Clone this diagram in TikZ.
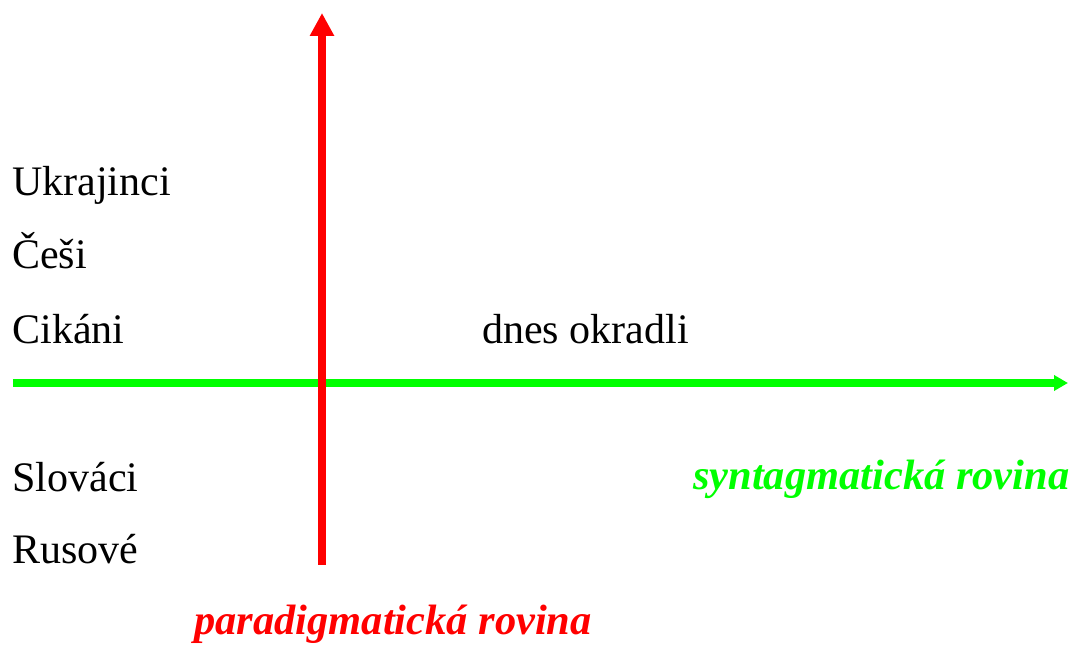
\documentclass[tikz,border=0pt]{standalone}
\usepackage{fontspec}
\setmainfont{Liberation Serif}
\usepackage{tikz}
\usetikzlibrary{arrows.meta}
\definecolor{parared}{RGB}{255,0,0}
\definecolor{syngreen}{RGB}{0,255,0}

\begin{document}
\begin{tikzpicture}[
    word/.style={anchor=base west, inner sep=0pt, font=\fontsize{29.9}{36}\selectfont},
    plane/.style={anchor=base west, inner sep=0pt, font=\fontsize{30.2}{36}\selectfont\bfseries\itshape}]
    \useasboundingbox (0cm, 0cm) rectangle (26.95cm, 16.1cm);

      % Axes
      \coordinate (synstart) at (0.325cm, 6.525cm);
      \coordinate (synend) at (26.7cm, 6.525cm);
      \coordinate (parastart) at (8.05cm, 1.975cm);
      \coordinate (paraend) at (8.05cm, 15.775cm);
      \draw[syngreen, line width=0.1875cm, -{Triangle[length=0.35cm, width=0.375cm]}] (synstart) -- (synend);
      \draw[parared, line width=0.2cm, -{Triangle[length=0.575cm, width=0.575cm]}] (parastart) -- (paraend);

      % Paradigm
      \node[word] (ukr) at (0.3cm, 11.2cm) {Ukrajinci};
      \node[word] (ces) at (0.3cm, 9.375cm) {Češi};
      \node[word] (cik) at (0.3cm, 7.5cm) {Cikáni};
      \node[word] (slo) at (0.3cm, 3.8cm) {Slováci};
      \node[word] (rus) at (0.3cm, 2.025cm) {Rusové};

      % Syntagm
      \node[word] (okr) at (12.05cm, 7.5cm) {dnes okradli};

      % Labels
      \node[plane, text=syngreen] (synlabel) at (17.32cm, 3.85cm) {syntagmatická rovina};
      \node[plane, text=parared] (paralabel) at (4.85cm, 0.24cm) {paradigmatická rovina};
  \end{tikzpicture}
\end{document}
